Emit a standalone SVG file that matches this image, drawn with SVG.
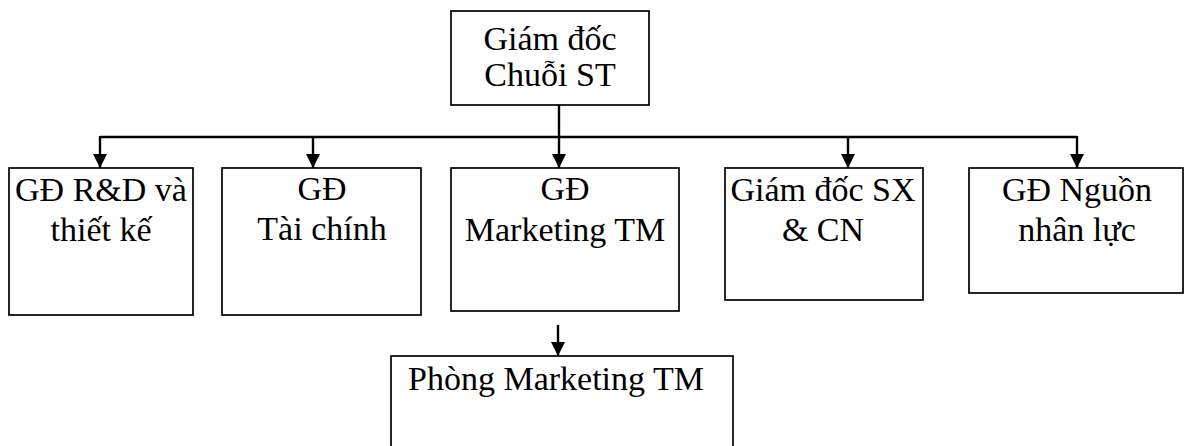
<svg xmlns="http://www.w3.org/2000/svg" width="1185" height="446" viewBox="0 0 1185 446">
  <style>
    .box { fill: #ffffff; stroke: #000000; stroke-width: 1.7; }
    .lbl { font-family: "Liberation Serif", "Times New Roman", serif; font-size: 34px; fill: #000000; text-anchor: middle; }
    .wire { fill: none; stroke: #000000; stroke-width: 2.4; }
  </style>
  <defs>
    <marker id="arrow" markerUnits="userSpaceOnUse" markerWidth="14" markerHeight="14" viewBox="0 0 14 14" refX="14" refY="7" orient="auto">
      <path d="M0,0 L14,7 L0,14 Z" fill="#000000"/>
    </marker>
  </defs>
  <rect width="1185" height="446" fill="#ffffff"/>

  <g id="connectors">
    <line class="wire" x1="559" y1="105" x2="559" y2="168" marker-end="url(#arrow)"/>
    <line class="wire" x1="100" y1="137" x2="1077" y2="137"/>
    <line class="wire" x1="100" y1="136" x2="100" y2="168" marker-end="url(#arrow)"/>
    <line class="wire" x1="313" y1="137" x2="313" y2="168" marker-end="url(#arrow)"/>
    <line class="wire" x1="848" y1="137" x2="848" y2="168" marker-end="url(#arrow)"/>
    <line class="wire" x1="1077" y1="136" x2="1077" y2="168" marker-end="url(#arrow)"/>
    <line class="wire" x1="558" y1="325" x2="558" y2="356" marker-end="url(#arrow)"/>
  </g>

  <g id="ceo">
    <rect class="box" x="451" y="11" width="198" height="94"/>
    <text class="lbl" x="550" y="50">Giám đốc</text>
    <text class="lbl" x="550" y="86">Chuỗi ST</text>
  </g>
  <g id="rnd">
    <rect class="box" x="9" y="168" width="184" height="147"/>
    <text class="lbl" x="101" y="201">GĐ R&amp;D và</text>
    <text class="lbl" x="101" y="241">thiết kế</text>
  </g>
  <g id="finance">
    <rect class="box" x="222" y="168" width="199" height="147"/>
    <text class="lbl" x="322" y="200">GĐ</text>
    <text class="lbl" x="322" y="240">Tài chính</text>
  </g>
  <g id="marketing">
    <rect class="box" x="451" y="168" width="228" height="143"/>
    <text class="lbl" x="565" y="200">GĐ</text>
    <text class="lbl" x="565" y="241">Marketing TM</text>
  </g>
  <g id="production">
    <rect class="box" x="725" y="168" width="198" height="132"/>
    <text class="lbl" x="823" y="201">Giám đốc SX</text>
    <text class="lbl" x="823" y="241">&amp; CN</text>
  </g>
  <g id="hr">
    <rect class="box" x="969" y="168" width="214" height="125"/>
    <text class="lbl" x="1077" y="201">GĐ Nguồn</text>
    <text class="lbl" x="1077" y="241">nhân lực</text>
  </g>
  <g id="marketing-dept">
    <rect class="box" x="391" y="356" width="342" height="110"/>
    <text class="lbl" x="556" y="390">Phòng Marketing TM</text>
  </g>
</svg>
